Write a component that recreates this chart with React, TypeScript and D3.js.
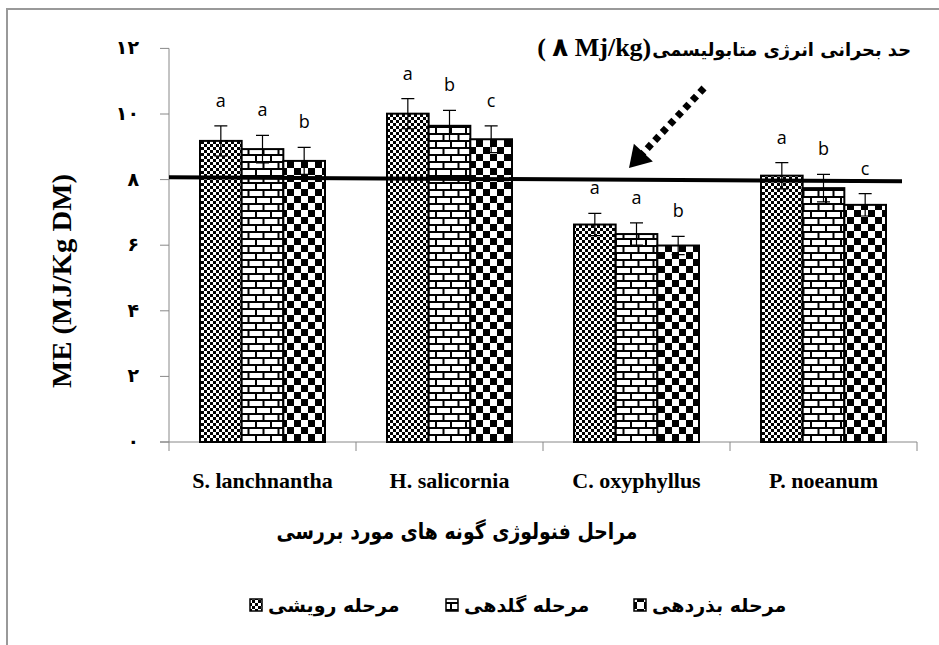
import * as d3 from 'd3'
import { useLayoutEffect, useRef, useState } from 'react'

const categories = ['S. lanchnantha', 'H. salicornia', 'C. oxyphyllus', 'P. noeanum']
const stageNames = ['مرحله رویشی', 'مرحله گلدهی', 'مرحله بذردهی']
const vegetative = [9.18, 10.01, 6.63, 8.12]
const flowering = [8.93, 9.64, 6.34, 7.74]
const seeding = [8.57, 9.23, 5.99, 7.23]
const vegetativeErr = [0.46, 0.46, 0.34, 0.4]
const floweringErr = [0.42, 0.47, 0.34, 0.42]
const seedingErr = [0.41, 0.41, 0.28, 0.34]
const vegetativeLetters = ['a', 'a', 'a', 'a']
const floweringLetters = ['a', 'b', 'a', 'b']
const seedingLetters = ['b', 'c', 'b', 'c']
const yTicks = [0, 2, 4, 6, 8, 10, 12]
const yTickLabels = ['۰', '۲', '۴', '۶', '۸', '۱۰', '۱۲']
const thresholdEnds = [8.07, 7.95] // critical ME line (8 Mj/kg), slightly tilted in the original

const W = 939
const H = 645
const serif = '"Liberation Serif", "Times New Roman", "DejaVu Sans", serif'
const persian = '"DejaVu Sans", sans-serif'

const series = [
  { values: vegetative, err: vegetativeErr, letters: vegetativeLetters, fill: 'url(#fineCheck)' },
  { values: flowering, err: floweringErr, letters: floweringLetters, fill: 'url(#brick)' },
  { values: seeding, err: seedingErr, letters: seedingLetters, fill: 'url(#bigCheck)' },
]

export default function App() {
  const titleRef = useRef<SVGTextElement>(null)
  const [titleSize, setTitleSize] = useState(22)
  const [titleLeft, setTitleLeft] = useState(652)

  // fit the Persian annotation to the width it has in the original, then hang the unit text on its left
  useLayoutEffect(() => {
    const el = titleRef.current
    if (!el) return
    const w = el.getBBox().width
    if (Math.abs(w - 259) > 2) {
      setTitleSize((s) => (s * 259) / w)
    } else {
      setTitleLeft(el.getBBox().x)
    }
  }, [titleSize])

  const x = d3.scaleBand<string>().domain(categories).range([169, 917])
  const xs = d3.scaleBand<number>().domain([0, 1, 2]).range([31, 156])
  const y = d3.scaleLinear().domain([0, 12]).range([442, 48.4])
  const bw = xs.bandwidth()

  // arrow annotation geometry
  const tip = [629, 168]
  const start = [704, 88]
  const len = Math.hypot(tip[0] - start[0], tip[1] - start[1])
  const ux = (tip[0] - start[0]) / len
  const uy = (tip[1] - start[1]) / len
  const baseMid = [tip[0] - 21 * ux, tip[1] - 21 * uy]
  const half = 13
  const head = [
    tip,
    [baseMid[0] + half * uy, baseMid[1] - half * ux],
    [baseMid[0] - half * uy, baseMid[1] + half * ux],
  ]

  const legendX = [250, 446, 634]

  return (
    <svg width={W} height={H} style={{ position: 'absolute', left: 0, top: 0, background: '#fff' }}>
      <defs>
        <pattern id="fineCheck" width={6} height={6} patternUnits="userSpaceOnUse">
          <rect width={6} height={6} fill="#fff" />
          <rect width={3} height={3} fill="#000" />
          <rect x={3} y={3} width={3} height={3} fill="#000" />
        </pattern>
        <pattern id="bigCheck" width={14} height={14} patternUnits="userSpaceOnUse">
          <rect width={14} height={14} fill="#fff" />
          <rect width={7} height={7} fill="#000" />
          <rect x={7} y={7} width={7} height={7} fill="#000" />
        </pattern>
        <pattern id="brick" width={15} height={14} patternUnits="userSpaceOnUse">
          <rect width={15} height={14} fill="#fff" />
          <path d="M0,1H15M0,8H15M1,1V8M8.5,8V15" stroke="#000" strokeWidth={2} />
        </pattern>
      </defs>

      {/* outer frame */}
      <rect x={7} y={9} width={1000} height={1000} fill="none" stroke="#999" strokeWidth={2} />

      {/* y axis */}
      <line x1={169} x2={169} y1={y(12)} y2={y(0)} stroke="#888" />
      {yTicks.map((t, i) => (
        <g key={t}>
          <line x1={160} x2={169} y1={y(t)} y2={y(t)} stroke="#888" />
          <text x={139} y={y(t) + 6} textAnchor="end" fontFamily={persian} fontWeight="bold" fontSize={19}>
            {yTickLabels[i]}
          </text>
        </g>
      ))}
      <text
        transform={`translate(71,281) rotate(-90)`}
        textAnchor="middle"
        fontFamily={serif}
        fontWeight="bold"
        fontSize={27}
        textLength={214}
        lengthAdjust="spacingAndGlyphs"
      >
        ME (MJ/Kg DM)
      </text>

      {/* x axis */}
      <line x1={160} x2={917} y1={y(0)} y2={y(0)} stroke="#888" />
      {[...categories.map((c) => x(c)!), 917].map((v, i) => (
        <line key={i} x1={v} x2={v} y1={y(0)} y2={y(0) + 9} stroke="#888" />
      ))}
      {categories.map((c) => (
        <text
          key={c}
          x={x(c)! + x.bandwidth() / 2}
          y={488}
          textAnchor="middle"
          fontFamily={serif}
          fontWeight="bold"
          fontSize={22}
        >
          {c}
        </text>
      ))}
      <text
        x={457}
        y={539}
        textAnchor="middle"
        fontFamily={persian}
        fontWeight="bold"
        fontSize={22}
        textLength={361}
        lengthAdjust="spacingAndGlyphs"
      >
        مراحل فنولوژی گونه های مورد  بررسی
      </text>

      {/* bars */}
      {series.map((s, si) =>
        categories.map((c, ci) => {
          const bx = x(c)! + xs(si)!
          const v = s.values[ci]
          const e = s.err[ci]
          const cx = bx + bw / 2
          return (
            <g key={`${si}-${ci}`}>
              <rect x={bx} y={y(v)} width={bw} height={y(0) - y(v)} fill={s.fill} stroke="#000" strokeWidth={2} />
              <path
                d={`M${cx},${y(v - e)}V${y(v + e)}M${cx - 6.5},${y(v + e)}H${cx + 6.5}M${cx - 6.5},${y(v - e)}H${cx + 6.5}`}
                stroke="#000"
                strokeWidth={1.2}
                fill="none"
              />
              <text
                x={cx}
                y={y(v + e) - 19}
                textAnchor="middle"
                fontFamily='"Open Sans", "Liberation Sans", sans-serif'
                fontSize={18}
              >
                {s.letters[ci]}
              </text>
            </g>
          )
        })
      )}

      {/* critical line */}
      <line x1={169} x2={902} y1={y(thresholdEnds[0])} y2={y(thresholdEnds[1])} stroke="#000" strokeWidth={4} />

      {/* arrow */}
      <line
        x1={start[0]}
        y1={start[1]}
        x2={baseMid[0] + 6 * ux}
        y2={baseMid[1] + 6 * uy}
        stroke="#000"
        strokeWidth={7}
        strokeDasharray="6 5"
      />
      <polygon points={head.map((p) => p.join(',')).join(' ')} fill="#000" />

      {/* annotation title */}
      <text
        ref={titleRef}
        x={911}
        y={56}
        textAnchor="end"
        fontFamily={persian}
        fontWeight="bold"
        fontSize={titleSize}
      >
        حد بحرانی انرژی متابولیسمی
      </text>
      <text
        x={titleLeft - 1}
        y={56}
        textAnchor="end"
        fontFamily={serif}
        fontWeight="bold"
        fontSize={26}
        style={{ direction: 'ltr', unicodeBidi: 'bidi-override' }}
      >
        ( ۸ Mj/kg)
      </text>

      {/* legend */}
      {stageNames.map((name, i) => (
        <g key={name}>
          <rect x={legendX[i]} y={599} width={12} height={12} fill={series[i].fill} stroke="#000" strokeWidth={1.5} />
          <text x={legendX[i] + 18} y={612} fontFamily={persian} fontWeight="bold" fontSize={19}>
            {name}
          </text>
        </g>
      ))}
    </svg>
  )
}
